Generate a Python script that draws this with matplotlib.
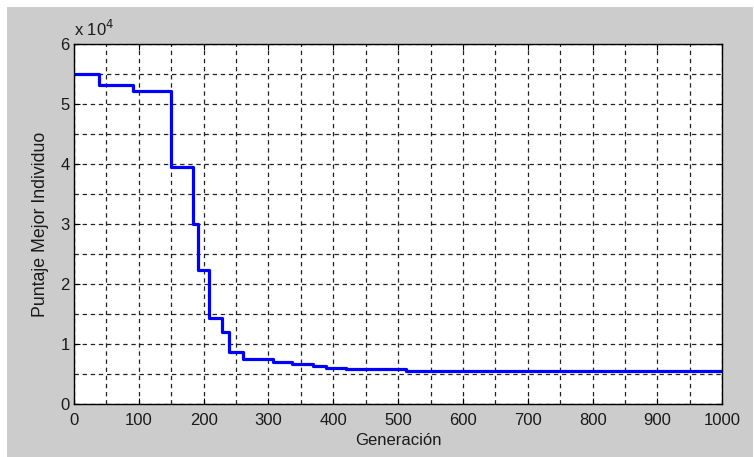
import matplotlib.pyplot as plt
from matplotlib.patches import Rectangle
from matplotlib.ticker import MultipleLocator, FuncFormatter

plt.rcParams['font.family'] = ['Liberation Sans', 'DejaVu Sans']

# generación en la que cambia el mejor individuo y su puntaje
gen_cambio = [0, 38, 91, 150, 184, 192, 208, 228, 239, 260, 307, 337, 369, 388, 419, 512, 1000]
puntaje = [55000, 53300, 52300, 39500, 30100, 22400, 14400, 12000, 8800, 7500,
           7000, 6700, 6400, 6100, 5900, 5600, 5600]

fig = plt.figure(figsize=(7.54, 4.57), dpi=100)
fig.patch.set_facecolor('white')
# fondo gris estilo MATLAB
fig.patches.append(Rectangle((7 / 754, 0), 746 / 754, 450 / 457,
                             transform=fig.transFigure, facecolor='#cccccc',
                             edgecolor='none', zorder=-10))

ax = fig.add_axes([0.0981, 0.1149, 0.8599, 0.7882])
ax.step(gen_cambio, puntaje, where='post', color='#0000ff', lw=2.3, zorder=3)

ax.set_xlim(0, 1000)
ax.set_ylim(0, 60000)
ax.xaxis.set_major_locator(MultipleLocator(100))
ax.xaxis.set_minor_locator(MultipleLocator(50))
ax.yaxis.set_major_locator(MultipleLocator(10000))
ax.yaxis.set_minor_locator(MultipleLocator(5000))
ax.yaxis.set_major_formatter(FuncFormatter(lambda v, p: '%d' % round(v / 1e4)))

ax.tick_params(which='major', direction='in', length=4, width=0.8,
               top=True, right=True, labelsize=12, pad=3,
               labelcolor='#1a1a1a')
ax.tick_params(axis='x', which='major', pad=6)
ax.tick_params(which='minor', length=0, top=True, right=True)
ax.grid(True, which='both', color='#222222', lw=0.9, linestyle=(0, (3.5, 3)))
for s in ax.spines.values():
    s.set_linewidth(1.0)
    s.set_zorder(4)

ax.set_xlabel('Generación', fontsize=12, labelpad=4, color='#1a1a1a')
ax.set_ylabel('Puntaje Mejor Individuo', fontsize=12.8, labelpad=8,
              color='#1a1a1a')
ax.text(0.0, 1.015, 'x 10$^{4}$', transform=ax.transAxes, fontsize=12,
        ha='left', va='bottom', color='#1a1a1a')

fig.savefig('out.png', dpi=100)
